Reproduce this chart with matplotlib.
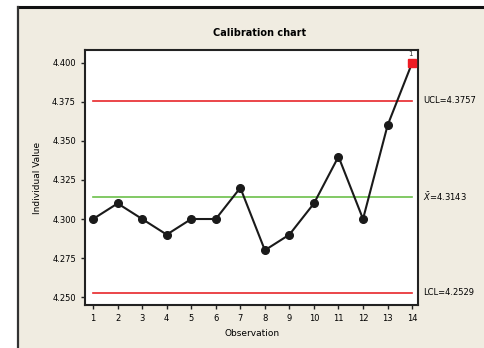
import matplotlib.pyplot as plt
from matplotlib.patches import Rectangle

# data
obs = list(range(1, 15))
vals = [4.30, 4.31, 4.30, 4.29, 4.30, 4.30, 4.32, 4.28, 4.29, 4.31, 4.34, 4.30, 4.36, 4.40]
ucl = 4.3757
mean = 4.3143
lcl = 4.2529
yticks = [4.250, 4.275, 4.300, 4.325, 4.350, 4.375, 4.400]
bg = '#f0ece1'

fig = plt.figure(figsize=(4.84, 3.48), dpi=100)
fig.patch.set_facecolor('white')
# beige panel with dark frame on top/left
fig.patches.append(Rectangle((18/484, -0.05), 1.0, 1 - 7/348 + 0.05, transform=fig.transFigure,
                             facecolor=bg, edgecolor='none', zorder=-5))
fig.add_artist(plt.Line2D([18/484, 1], [1 - 7/348, 1 - 7/348], transform=fig.transFigure, color='#111111', lw=2.2))
fig.add_artist(plt.Line2D([18/484, 18/484], [0, 1 - 7/348], transform=fig.transFigure, color='#333333', lw=1.6))

ax = fig.add_axes([85/484, 1 - 305/348, (418-85)/484, (305-50)/348])
ax.set_zorder(3)
ax.set_facecolor('white')

ax.plot([1, 14], [ucl, ucl], color='#e8262a', lw=1.2)
ax.plot([1, 14], [lcl, lcl], color='#e8262a', lw=1.2)
ax.plot([1, 14], [mean, mean], color='#6cc04a', lw=1.2)

ax.plot(obs, vals, color='#1a1a1a', lw=1.5, marker='o', markersize=5.5)
# out-of-control point
ax.plot(obs[-1], vals[-1], marker='s', color='#ee1c24', markersize=6, ls='none', zorder=5)
ax.text(obs[-1] - 0.05, vals[-1] + 0.004, '1', fontsize=5, ha='center', va='bottom', color='#333333')

ax.set_xlim(0.67, 14.24)
ax.set_ylim(4.2449, 4.4083)
ax.set_xticks(obs)
ax.set_yticks(yticks)
ax.set_yticklabels(['%.3f' % t for t in yticks])
ax.tick_params(labelsize=6, length=3, width=1, color='#222222')
for s in ax.spines.values():
    s.set_linewidth(1.5)
    s.set_color('#222222')

ax.text(14.45, ucl, 'UCL=%.4f' % ucl, fontsize=6, va='center', ha='left')
ax.text(14.45, mean, r'$\bar{X}$=%.4f' % mean, fontsize=6, va='center', ha='left')
ax.text(14.45, lcl, 'LCL=%.4f' % lcl, fontsize=6, va='center', ha='left')

fig.text(260/484, 1 - 33/348, 'Calibration chart', fontsize=7, fontweight='bold', ha='center', va='center')
fig.text(252/484, 1 - 333/348, 'Observation', fontsize=6.5, ha='center', va='center')
fig.text(38/484, 1 - 178/348, 'Individual Value', fontsize=6.5, ha='center', va='center', rotation=90)

plt.savefig('out.png', dpi=100, facecolor=fig.get_facecolor())
